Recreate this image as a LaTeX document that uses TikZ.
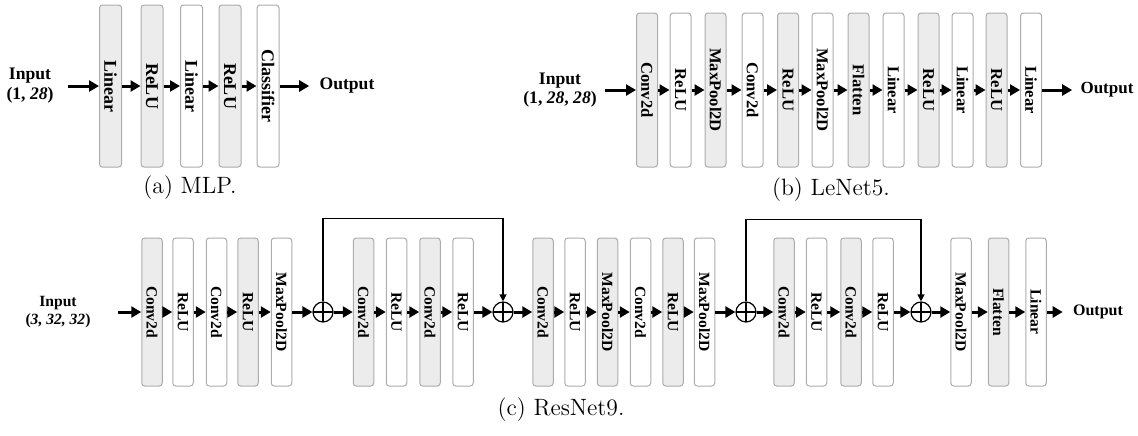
\documentclass[tikz,border=0pt]{standalone}
\usepackage{fontspec}
\newfontfamily\tnr{Liberation Serif}
\usetikzlibrary{arrows.meta}

\begin{document}
\begin{tikzpicture}[
    x=0.5pt, y=-0.5pt,
    font=\tnr\bfseries
]
	\tikzset{
	    blk/.style = {draw=gray!65, line width=0.5pt, rounded corners=1.5pt, rotate=-90, inner sep=0pt, fill=white},
	    gr/.style = {fill=gray!15},
	    mlpblk/.style = {blk, minimum width=81pt, minimum height=11pt, font=\tnr\bfseries\fontsize{9}{9}\selectfont},
	    lenblk/.style = {blk, minimum width=77pt, minimum height=10.5pt, font=\tnr\bfseries\fontsize{8.3}{8.3}\selectfont},
	    resblk/.style = {blk, minimum width=74pt, minimum height=10.25pt, font=\tnr\bfseries\fontsize{7.8}{7.8}\selectfont},
	    addn/.style = {circle, draw, line width=0.6pt, minimum size=10pt, inner sep=0pt,
	        path picture={\draw[line width=0.6pt] (path picture bounding box.north) -- (path picture bounding box.south)
	            (path picture bounding box.west) -- (path picture bounding box.east);}},
	    io/.style = {align=center, inner ysep=0pt},
	    capt/.style = {font=\rmfamily\mdseries\fontsize{11.8}{14}\selectfont},
	    edgen/.style = {-{Triangle[length=5pt,width=5.5pt]}, line width=1.5pt},
	    edges/.style = {-{Triangle[length=3.5pt,width=3.5pt]}, line width=0.6pt}
	}
	\useasboundingbox (0,0) rectangle (1138,435);

	% (a) MLP
	\node[io, inner xsep=7pt, font=\tnr\bfseries\fontsize{8.8}{10}\selectfont] at (30,86) (inA) {Input\\(1, \textit{28})};
	\node[mlpblk, gr] at (110.5,86) (m1) {Linear};
	\node[mlpblk, gr] at (152,86) (m2) {ReLU};
	\node[mlpblk] at (191.5,86) (m3) {Linear};
	\node[mlpblk, gr] at (230,86) (m4) {ReLU};
	\node[mlpblk] at (268,86) (m5) {Classifier};
	\node[io, inner xsep=5pt, font=\tnr\bfseries\fontsize{8.8}{10}\selectfont] at (347,86) (outA) {Output};
	\draw[edgen] (inA) -- (m1);
	\draw[edgen] (m1) -- (m2);
	\draw[edgen] (m2) -- (m3);
	\draw[edgen] (m3) -- (m4);
	\draw[edgen] (m4) -- (m5);
	\draw[edgen] (m5) -- (outA);
	\node[capt] at (190,188) (capA) {(a) MLP.};

	% (b) LeNet5
	\node[io, inner xsep=4pt, font=\tnr\bfseries\fontsize{8.8}{9.5}\selectfont] at (560,90) (inB) {Input\\(1, \textit{28}, \textit{28})};
	\node[lenblk, gr] at (647,90) (l1) {Conv2d};
	\node[lenblk] at (680.5,90) (l2) {ReLU};
	\node[lenblk, gr] at (715.5,90) (l3) {MaxPool2D};
	\node[lenblk] at (752.5,90) (l4) {Conv2d};
	\node[lenblk, gr] at (788,90) (l5) {ReLU};
	\node[lenblk] at (822.5,90) (l6) {MaxPool2D};
	\node[lenblk, gr] at (858.5,90) (l7) {Flatten};
	\node[lenblk] at (893.5,90) (l8) {Linear};
	\node[lenblk, gr] at (928.5,90) (l9) {ReLU};
	\node[lenblk] at (962.5,90) (l10) {Linear};
	\node[lenblk, gr] at (996.5,90) (l11) {ReLU};
	\node[lenblk] at (1031,90) (l12) {Linear};
	\node[io, inner xsep=4pt, font=\tnr\bfseries\fontsize{8.5}{10}\selectfont] at (1107,90) (outB) {Output};
	\draw[edgen] (inB) -- (l1);
	\draw[edgen] (l1) -- (l2);
	\draw[edgen] (l2) -- (l3);
	\draw[edgen] (l3) -- (l4);
	\draw[edgen] (l4) -- (l5);
	\draw[edgen] (l5) -- (l6);
	\draw[edgen] (l6) -- (l7);
	\draw[edgen] (l7) -- (l8);
	\draw[edgen] (l8) -- (l9);
	\draw[edgen] (l9) -- (l10);
	\draw[edgen] (l10) -- (l11);
	\draw[edgen] (l11) -- (l12);
	\draw[edgen] (l12) -- (outB);
	\node[capt] at (831,190) (capB) {(b) LeNet5.};

	% (c) ResNet9
	\node[io, inner xsep=13.5pt, font=\tnr\bfseries\fontsize{7.8}{9}\selectfont] at (58,312) (inC) {Input\\(\textit{3, 32, 32})};
	\node[resblk, gr] at (152,312) (r1) {Conv2d};
	\node[resblk] at (183,312) (r2) {ReLU};
	\node[resblk] at (216.5,312) (r3) {Conv2d};
	\node[resblk, gr] at (248,312) (r4) {ReLU};
	\node[resblk] at (281.5,312) (r5) {MaxPool2D};
	\node[addn] at (323,312) (p1) {};
	\node[resblk, gr] at (363.5,312) (r6) {Conv2d};
	\node[resblk] at (396.5,312) (r7) {ReLU};
	\node[resblk, gr] at (430,312) (r8) {Conv2d};
	\node[resblk] at (463,312) (r9) {ReLU};
	\node[addn] at (503,312) (p2) {};
	\node[resblk, gr] at (543,312) (r10) {Conv2d};
	\node[resblk] at (575,312) (r11) {ReLU};
	\node[resblk, gr] at (607.5,312) (r12) {MaxPool2D};
	\node[resblk] at (640.5,312) (r13) {Conv2d};
	\node[resblk, gr] at (673,312) (r14) {ReLU};
	\node[resblk] at (704.5,312) (r15) {MaxPool2D};
	\node[addn] at (746,312) (p3) {};
	\node[resblk, gr] at (784,312) (r16) {Conv2d};
	\node[resblk] at (816.5,312) (r17) {ReLU};
	\node[resblk, gr] at (851,312) (r18) {Conv2d};
	\node[resblk] at (883,312) (r19) {ReLU};
	\node[addn] at (921,312) (p4) {};
	\node[resblk] at (961,312) (r20) {MaxPool2D};
	\node[resblk, gr] at (998.5,312) (r21) {Flatten};
	\node[resblk] at (1036,312) (r22) {Linear};
	\node[io, inner xsep=5pt, font=\tnr\bfseries\fontsize{8}{10}\selectfont] at (1098,312) (outC) {Output};
	\draw[edgen] (inC) -- (r1);
	\draw[edgen] (r1) -- (r2);
	\draw[edgen] (r2) -- (r3);
	\draw[edgen] (r3) -- (r4);
	\draw[edgen] (r4) -- (r5);
	\draw[edgen] (r5) -- (p1);
	\draw[edgen] (p1) -- (r6);
	\draw[edgen] (r6) -- (r7);
	\draw[edgen] (r7) -- (r8);
	\draw[edgen] (r8) -- (r9);
	\draw[edgen] (r9) -- (p2);
	\draw[edgen] (p2) -- (r10);
	\draw[edgen] (r10) -- (r11);
	\draw[edgen] (r11) -- (r12);
	\draw[edgen] (r12) -- (r13);
	\draw[edgen] (r13) -- (r14);
	\draw[edgen] (r14) -- (r15);
	\draw[edgen] (r15) -- (p3);
	\draw[edgen] (p3) -- (r16);
	\draw[edgen] (r16) -- (r17);
	\draw[edgen] (r17) -- (r18);
	\draw[edgen] (r18) -- (r19);
	\draw[edgen] (r19) -- (p4);
	\draw[edgen] (p4) -- (r20);
	\draw[edgen] (r20) -- (r21);
	\draw[edgen] (r21) -- (r22);
	\draw[edgen] (r22) -- (outC);
	% skip connections
	\draw[edges] (p1.north) -- ++(0,-83) -| (p2.north);
	\draw[edges] (p3.north) -- ++(0,-82) -| (p4.north);
	\node[capt] at (561,410) (capC) {(c) ResNet9.};
\end{tikzpicture}
\end{document}
